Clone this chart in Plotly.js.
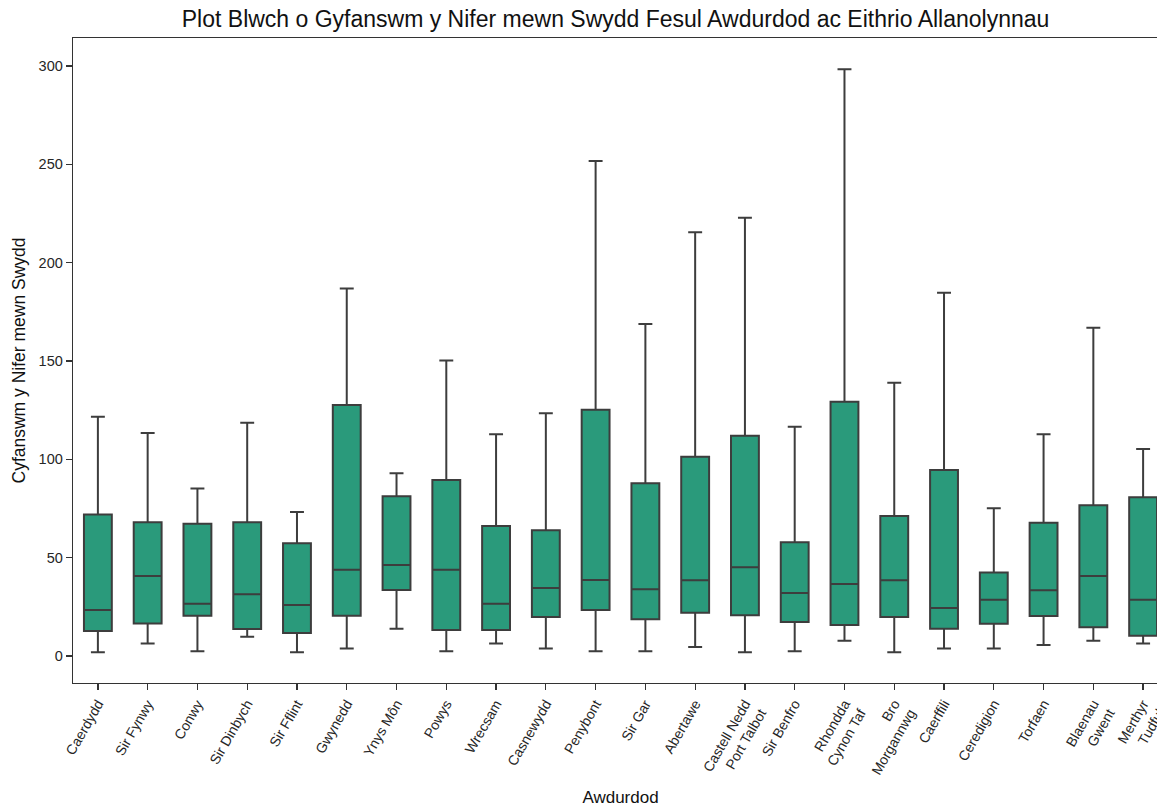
<!DOCTYPE html>
<html>
<head>
<meta charset="utf-8">
<script src="https://cdn.plot.ly/plotly-3.0.1.min.js"></script>
<style>
html, body { margin: 0; padding: 0; overflow: hidden; background: #fff; }
#chart { width: 1168px; height: 807px; }
</style>
</head>
<body>
<div id="chart"></div>
<script>
const categories = ["Caerdydd","Sir Fynwy","Conwy","Sir Dinbych","Sir Fflint","Gwynedd","Ynys Môn","Powys","Wrecsam","Casnewydd","Penybont","Sir Gar","Abertawe","Castell Nedd Port Talbot","Sir Benfro","Rhondda Cynon Taf","Bro Morgannwg","Caerffili","Ceredigion","Torfaen","Blaenau Gwent","Merthyr Tudful"];
const tickLabels = ["Caerdydd","Sir Fynwy","Conwy","Sir Dinbych","Sir Fflint","Gwynedd","Ynys Môn","Powys","Wrecsam","Casnewydd","Penybont","Sir Gar","Abertawe","Castell Nedd<br>Port Talbot","Sir Benfro","Rhondda<br>Cynon Taf","Bro<br>Morgannwg","Caerffili","Ceredigion","Torfaen","Blaenau<br>Gwent","Merthyr<br>Tudful"];
const lowerWhisker = [1.9, 6.4, 2.5, 9.8, 1.9, 3.9, 13.9, 2.5, 6.4, 3.9, 2.5, 2.5, 4.6, 1.9, 2.5, 7.8, 1.9, 3.9, 3.9, 5.6, 7.8, 6.4];
const q1Values = [12.7, 16.6, 20.5, 13.7, 11.7, 20.5, 33.6, 13.2, 13.2, 19.8, 23.4, 18.7, 22.0, 20.7, 17.3, 15.8, 19.8, 13.9, 16.4, 20.3, 14.6, 10.3];
const medianValues = [23.4, 40.7, 26.6, 31.4, 25.9, 43.9, 46.3, 43.9, 26.6, 34.6, 38.6, 33.9, 38.5, 45.2, 32.0, 36.6, 38.5, 24.4, 28.6, 33.4, 40.7, 28.6];
const q3Values = [72.0, 68.0, 67.3, 68.0, 57.3, 127.6, 81.2, 89.5, 66.1, 63.9, 125.2, 87.8, 101.3, 112.0, 57.8, 129.3, 71.2, 94.6, 42.5, 67.8, 76.6, 80.7];
const upperWhisker = [121.7, 113.4, 85.2, 118.6, 73.2, 186.9, 92.9, 150.3, 112.7, 123.4, 251.7, 168.8, 215.4, 222.8, 116.6, 298.3, 138.9, 184.7, 75.2, 112.7, 166.9, 105.2];
const yTicks = [0, 50, 100, 150, 200, 250, 300];

const FONT = 'Arial, "Liberation Sans", sans-serif';
const AXIS_COLOR = '#333333';

const trace = {
  type: 'box',
  x: categories,
  q1: q1Values,
  median: medianValues,
  q3: q3Values,
  lowerfence: lowerWhisker,
  upperfence: upperWhisker,
  boxpoints: false,
  fillcolor: '#2a9a7b',
  line: { color: '#3d3d3d', width: 2 },
  whiskerwidth: 0.5,
  hoverinfo: 'skip',
  showlegend: false
};

const layout = {
  width: 1168,
  height: 807,
  margin: { l: 73, r: 0, t: 38, b: 124, pad: 0 },
  paper_bgcolor: '#ffffff',
  plot_bgcolor: '#ffffff',
  font: { family: FONT, color: '#262626', size: 14 },
  boxgap: 0.2,
  title: {
    text: 'Plot Blwch o Gyfanswm y Nifer mewn Swydd Fesul Awdurdod ac Eithrio Allanolynnau',
    font: { family: FONT, size: 23, color: '#111111' },
    x: 0.4955, xref: 'paper', xanchor: 'center',
    y: 1, yref: 'container', yanchor: 'top', pad: { t: 11 }
  },
  xaxis: {
    type: 'category',
    range: [-0.5, categories.length - 0.5],
    tickvals: categories,
    ticktext: tickLabels,
    tickangle: -60,
    tickfont: { family: FONT, size: 14, color: '#262626' },
    ticks: 'outside', ticklen: 6, tickwidth: 1.3, tickcolor: AXIS_COLOR,
    showline: true, linecolor: AXIS_COLOR, linewidth: 1.3, mirror: true,
    showgrid: false, zeroline: false,
    title: { text: 'Awdurdod', font: { family: FONT, size: 17, color: '#111111' }, standoff: 10 }
  },
  yaxis: {
    range: [-13.7, 314.2],
    tickvals: yTicks,
    ticktext: yTicks.map(String),
    tickfont: { family: FONT, size: 14.5, color: '#262626' },
    ticks: 'outside', ticklen: 6, tickwidth: 1.3, tickcolor: AXIS_COLOR,
    showline: true, linecolor: AXIS_COLOR, linewidth: 1.3, mirror: true,
    showgrid: false, zeroline: false,
    title: { text: 'Cyfanswm y Nifer mewn Swydd', font: { family: FONT, size: 17.5, color: '#111111' }, standoff: 8 }
  }
};

Plotly.newPlot('chart', [trace], layout, { displayModeBar: false, staticPlot: true });
</script>
</body>
</html>
